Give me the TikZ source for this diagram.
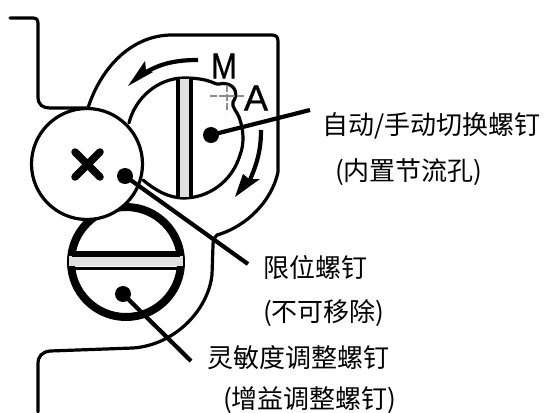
\documentclass[tikz,border=0pt]{standalone}
\usepackage{fontspec}
\setmainfont{Noto Sans CJK SC}
\newfontfamily\latinf[FakeBold=0.8]{Liberation Sans}
\tikzset{
  body/.style={draw=black,line width=3.2pt,line join=round,line cap=round},
  leader/.style={draw=black,line width=4.2pt},
  dotmark/.style={circle,fill=black,inner sep=0pt,minimum size=16pt},
  lab/.style={font=\fontsize{26}{26}\selectfont,anchor=west,inner sep=0pt},
  letter/.style={font=\latinf\fontsize{36}{36}\selectfont,inner sep=0pt},
  cross/.style={draw=black!45,line width=2.4pt,dash pattern=on 7pt off 2pt}
}
\begin{document}
\begin{tikzpicture}[x=1pt,y=-1pt]
\useasboundingbox[fill=white] (0,0) rectangle (545,412);
% housing
\draw[body] (10,18) -- (33,18) .. controls (37,18) and (38,20) .. (38,24) -- (38,97)
  .. controls (38,105) and (43,108) .. (50,108) -- (88,108)
  .. controls (100,70) and (130,35) .. (172,35) -- (272,35)
  .. controls (277,35) and (278,38) .. (278,42) -- (278,172)
  .. controls (272,200) and (248,226) .. (217,235) .. controls (214,237) and (213,240) .. (213,245)
  -- (212,275) .. controls (208,310) and (175,345) .. (133,348) -- (50,351)
  .. controls (42,352) and (38,356) .. (38,364) -- (38,412);
% sensitivity screw
\draw[draw=black,line width=8pt,fill=white] (126,262) circle (55);
\fill[black!12] (69,256) rectangle (183,266);
\draw[black,line width=5.5pt] (72,254) -- (180,254);
\draw[black,line width=3pt] (72,268) -- (180,268);
% auto/manual screw
\draw[body,fill=white] (129,123) .. controls (135,98) and (158,78) .. (184,78)
  .. controls (195,78) and (205,79) .. (214,83) .. controls (219,86) and (221,82) .. (227,84)
  .. controls (236,86) and (238,95) .. (233,102) .. controls (231,107) and (238,112) .. (240,120)
  .. controls (244,132) and (244,145) .. (240,155) .. controls (232,182) and (208,198) .. (184,198)
  .. controls (168,198) and (155,190) .. (143,180);
\fill[black!12] (178,79) rectangle (191,197);
\draw[black,line width=4pt] (178,78) -- (178,198) (191,78) -- (191,198);
\draw[cross] (210,96) -- (246,96);
\draw[cross] (227,85) -- (227,112);
% limit screw
\draw[body,fill=white] (87,164) circle (55.5);
\draw[black,line width=7.5pt,line cap=round] (75,152) -- (100,177) (100,152) -- (75,177);
% direction arrows
\draw[black,line width=4.2pt] (198,60) .. controls (180,60) and (160,62) .. (140,76);
\fill[black] (128,86) -- (145,61) -- (146,70) -- (153,72) -- cycle;
\draw[black,line width=4.2pt] (261,130) .. controls (261,148) and (258,162) .. (249,182);
\fill[black] (235,197) -- (243,174) -- (249,179) -- (260,179) -- cycle;
\node[letter,xscale=.86] (m) at (224,66) {M};
\node[letter] (a) at (256,98) {A};
% labels
\node[lab] (l1) at (322,126) {自动/手动切换螺钉};
\node[lab] (l2) at (335,172) {(内置节流孔)};
\node[lab] (l3) at (263,268) {限位螺钉};
\node[lab] (l4) at (263,313) {(不可移除)};
\node[lab] (l5) at (207,358) {灵敏度调整螺钉};
\node[lab] (l6) at (223,400) {(增益调整螺钉)};
% leaders
\node[dotmark] (d1) at (211,135) {};
\node[dotmark] (d2) at (125,176) {};
\node[dotmark] (d3) at (123,294) {};
\coordinate (e1) at (310,110);
\coordinate (e2) at (248,264);
\coordinate (e3) at (191,361);
\draw[leader] (d1.center) -- (e1);
\draw[leader] (d2.center) -- (e2);
\draw[leader] (d3.center) -- (e3);
\end{tikzpicture}
\end{document}
